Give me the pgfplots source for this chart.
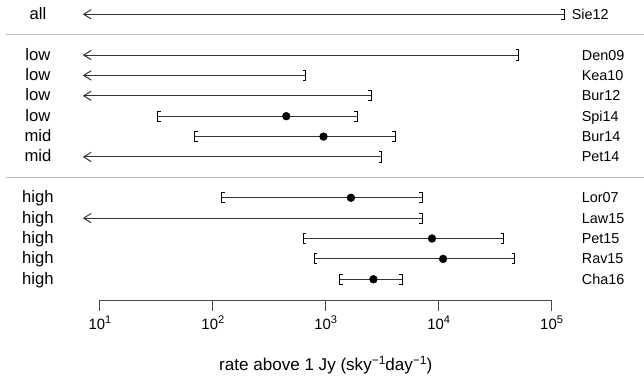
\documentclass[border=0pt]{standalone}
\usepackage{pgfplots}
\pgfplotsset{compat=1.18}
\usepackage{pgfplotstable}
\usepackage{fontspec}
\setmainfont{Liberation Sans}
\usetikzlibrary{arrows.meta}

\pgfdeclareplotmark{lbr}{%
  \pgfpathmoveto{\pgfqpoint{2.3pt}{3.8pt}}%
  \pgfpathlineto{\pgfqpoint{0pt}{3.8pt}}%
  \pgfpathlineto{\pgfqpoint{0pt}{-3.8pt}}%
  \pgfpathlineto{\pgfqpoint{2.3pt}{-3.8pt}}%
  \pgfusepathqstroke}
\pgfdeclareplotmark{rbr}{%
  \pgfpathmoveto{\pgfqpoint{-2.3pt}{3.8pt}}%
  \pgfpathlineto{\pgfqpoint{0pt}{3.8pt}}%
  \pgfpathlineto{\pgfqpoint{0pt}{-3.8pt}}%
  \pgfpathlineto{\pgfqpoint{-2.3pt}{-3.8pt}}%
  \pgfusepathqstroke}

\newcommand\sups[1]{\raisebox{4.3pt}{\fontsize{8.3}{9}\selectfont #1}}

% two-sided intervals: row (negative), lower, estimate, upper
\pgfplotstableread{
y    lo     est    hi
-5   32.4   447    1897
-6   68.9   955    4120
-9   120    1670   7190
-11  629    8730   37700
-12  788    10940  47200
-13  1334   2643   4750
}\twosided
% upper limits only
\pgfplotstableread{
y    hi
0    129000
-2   51000
-3   667
-4   2540
-7   3127
-10  7190
}\upperonly

\begin{document}
\begin{tikzpicture}[font=\fontsize{10.8}{12.6}\selectfont,
  lft/.style={anchor=base, font=\fontsize{12.5}{14}\selectfont},
  rgt/.style={anchor=base west, inner sep=0pt}]
\begin{axis}[
  scale only axis,
  width=483pt, height=289.5pt,
  xmode=log,
  xmin=1.303, xmax=651630,
  ymin=-18.22, ymax=0.701,
  hide axis,
  clip=false,
  iv/.style={black!80, line width=0.75pt, mark=none},
  ul/.style={iv, {Straight Barb[length=5.6pt,width=7pt,line width=0.75pt]}-},
]
\path (rel axis cs:0,0) rectangle (rel axis cs:1,1);

% separators
\addplot[iv, color=black!25] coordinates {(1.47,-1) (651630,-1)};
\addplot[iv, color=black!25] coordinates {(1.47,-8) (651630,-8)};

% upper-limit rows (arrows to the left)
\addplot[ul] coordinates {(7.05,0) (129000,0)};
\addplot[ul] coordinates {(7.05,-2) (51000,-2)};
\addplot[ul] coordinates {(7.05,-3) (667,-3)};
\addplot[ul] coordinates {(7.05,-4) (2540,-4)};
\addplot[ul] coordinates {(7.05,-7) (3127,-7)};
\addplot[ul] coordinates {(7.05,-10) (7190,-10)};

% two-sided intervals
\addplot[iv] coordinates {(32.4,-5) (1897,-5)};
\addplot[iv] coordinates {(68.9,-6) (4120,-6)};
\addplot[iv] coordinates {(120,-9) (7190,-9)};
\addplot[iv] coordinates {(629,-11) (37700,-11)};
\addplot[iv] coordinates {(788,-12) (47200,-12)};
\addplot[iv] coordinates {(1334,-13) (4750,-13)};

% brackets and estimates
\addplot[only marks, mark=lbr, black, mark options={line width=0.75pt}] table[x=lo, y=y] {\twosided};
\addplot[only marks, mark=rbr, black, mark options={line width=0.75pt}] table[x=hi, y=y] {\twosided};
\addplot[only marks, mark=rbr, black, mark options={line width=0.75pt}] table[x=hi, y=y] {\upperonly};
\addplot[only marks, mark=*, black, mark size=2.9pt] table[x=est, y=y] {\twosided};

% x axis (R style)
\draw[black!70, line width=0.75pt] (axis cs:10,-14.02) -- (axis cs:100000,-14.02);
\pgfplotsinvokeforeach{1,...,5}{
  \draw[black!70, line width=0.75pt] (axis cs:1e#1,-14.02) -- (axis cs:1e#1,-14.56);
  \node[anchor=base, font=\fontsize{11.2}{13}\selectfont] at (axis cs:1e#1,-15.45) {10\sups{#1}};
}
\node[anchor=base, font=\fontsize{12.8}{14}\selectfont] at (axis cs:1000,-17.49) {rate above 1 Jy (sky\raisebox{4.6pt}{\fontsize{9}{10}\selectfont −1}day\raisebox{4.6pt}{\fontsize{9}{10}\selectfont −1})};

% left labels
\node[lft] at (axis cs:2.825,-0.245) {all};
\node[lft] at (axis cs:2.825,-2.245) {low};
\node[lft] at (axis cs:2.825,-3.245) {low};
\node[lft] at (axis cs:2.825,-4.245) {low};
\node[lft] at (axis cs:2.825,-5.245) {low};
\node[lft] at (axis cs:2.825,-6.245) {mid};
\node[lft] at (axis cs:2.825,-7.245) {mid};
\node[lft] at (axis cs:2.825,-9.245) {high};
\node[lft] at (axis cs:2.825,-10.245) {high};
\node[lft] at (axis cs:2.825,-11.245) {high};
\node[lft] at (axis cs:2.825,-12.245) {high};
\node[lft] at (axis cs:2.825,-13.245) {high};

% right labels
\node[rgt] at (axis cs:150300,-0.245) {Sie12};
\node[rgt] at (axis cs:184400,-2.245) {Den09};
\node[rgt] at (axis cs:184400,-3.245) {Kea10};
\node[rgt] at (axis cs:184400,-4.245) {Bur12};
\node[rgt] at (axis cs:184400,-5.245) {Spi14};
\node[rgt] at (axis cs:184400,-6.245) {Bur14};
\node[rgt] at (axis cs:184400,-7.245) {Pet14};
\node[rgt] at (axis cs:184400,-9.245) {Lor07};
\node[rgt] at (axis cs:184400,-10.245) {Law15};
\node[rgt] at (axis cs:184400,-11.245) {Pet15};
\node[rgt] at (axis cs:184400,-12.245) {Rav15};
\node[rgt] at (axis cs:184400,-13.245) {Cha16};
\end{axis}
\end{tikzpicture}
\end{document}
